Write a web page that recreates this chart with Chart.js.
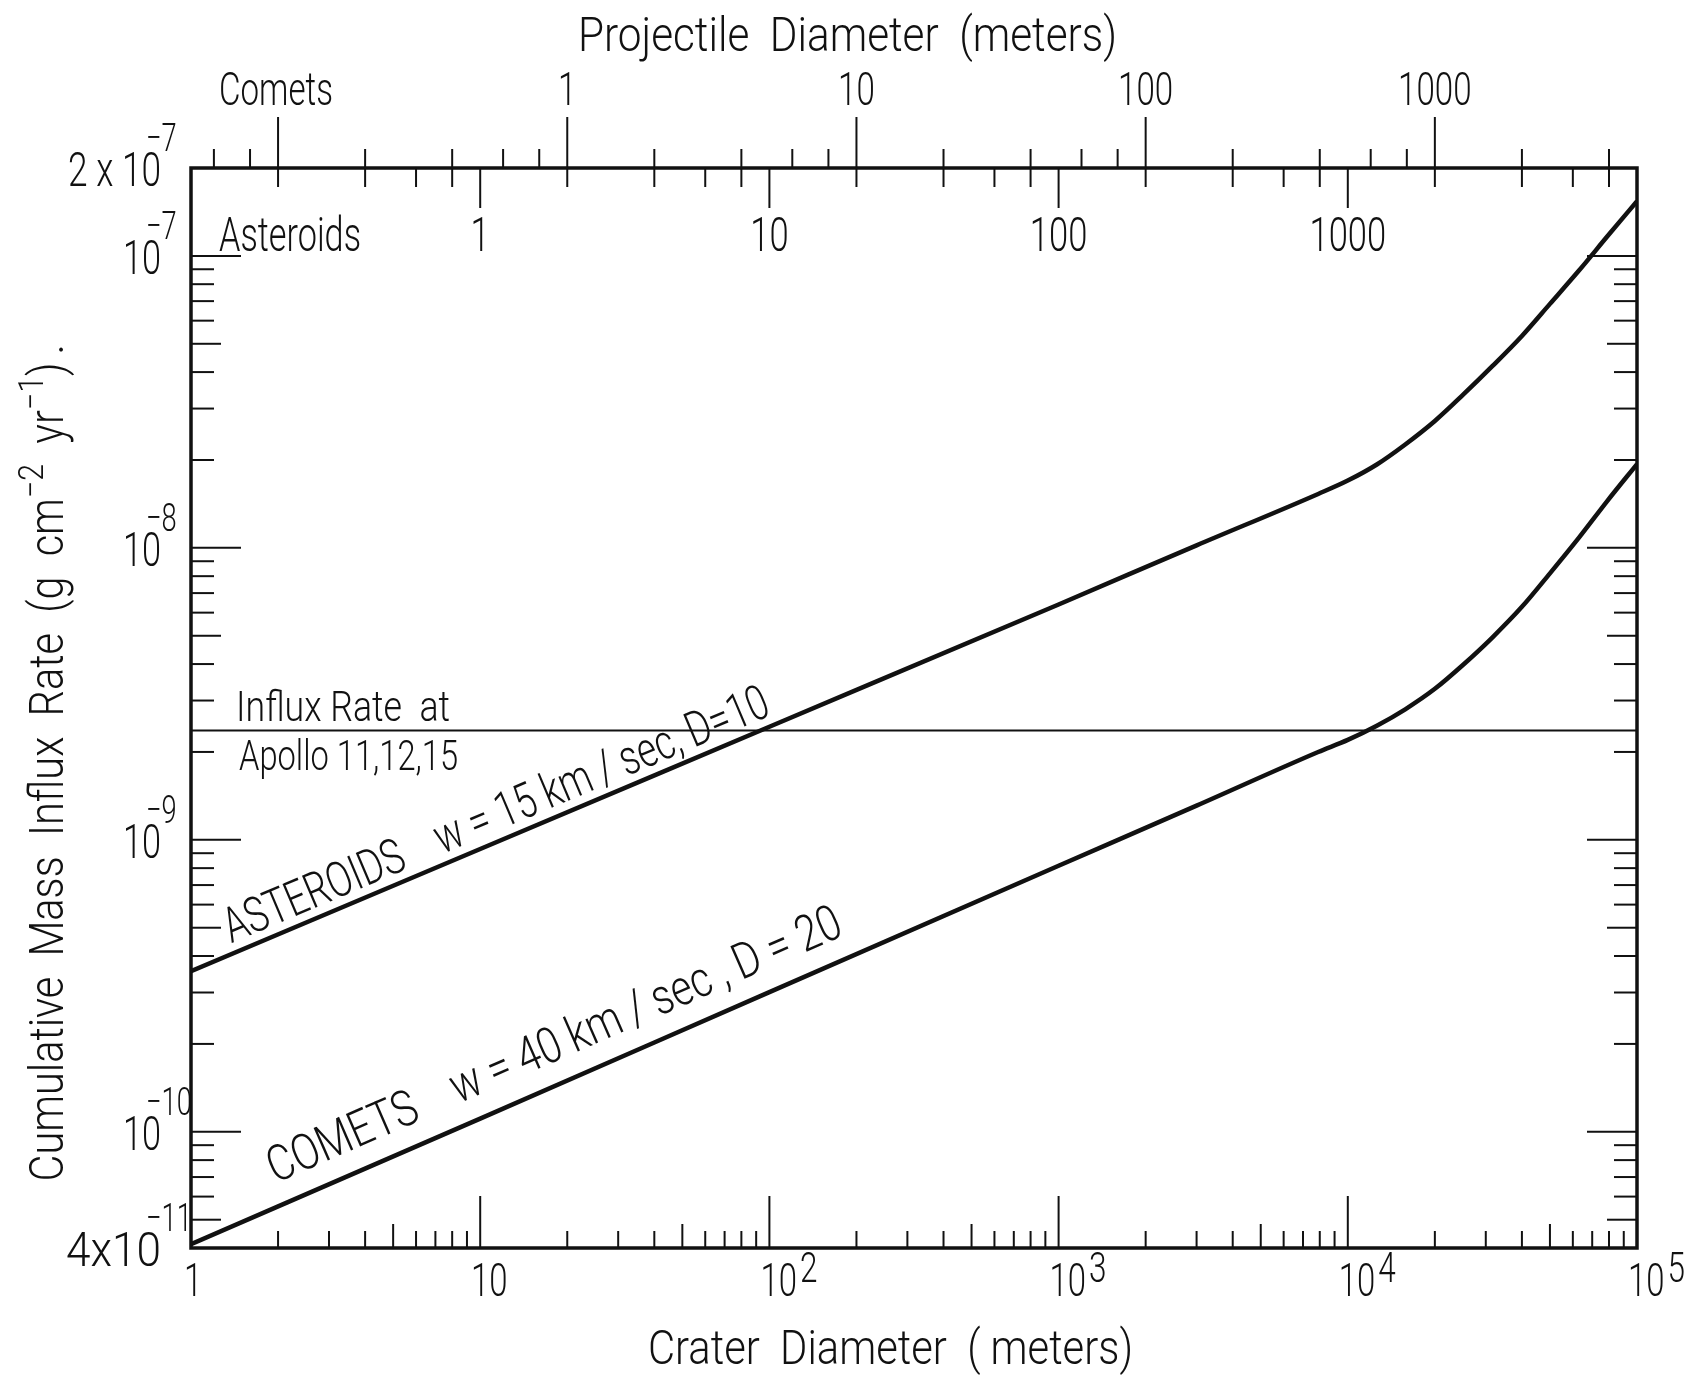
<!DOCTYPE html>
<html lang="en">
<head>
<meta charset="UTF-8">
<title>Cumulative Mass Influx Rate vs Crater Diameter</title>
<script src="https://cdn.jsdelivr.net/npm/chart.js"></script>
<style>
    body { margin: 0; background: #ffffff; }
    #wrap { width: 1700px; height: 1376px; }
</style>
</head>
<body>
<div id="wrap"><canvas id="influxChart" width="1700" height="1376"></canvas></div>
<script>
    const asteroidCrater = [1, 10, 100, 1000, 3000, 7900, 10000, 12600, 15800, 20000, 25000, 31600, 40000, 50000, 63000, 79000, 100000];
    const asteroidRate = [3.55e-10, 9.3e-10, 2.44e-9, 6.4e-9, 1.02e-8, 1.53e-8, 1.70e-8, 1.93e-8, 2.26e-8, 2.72e-8, 3.34e-8, 4.19e-8, 5.32e-8, 6.85e-8, 8.91e-8, 1.167e-7, 1.54e-7];
    const cometCrater = [1, 10, 100, 1000, 3000, 7900, 10000, 12600, 15800, 20000, 25000, 31600, 40000, 50000, 63000, 79000, 100000];
    const cometRate = [4.12e-11, 1.11e-10, 3.01e-10, 8.15e-10, 1.31e-9, 2.0e-9, 2.2e-9, 2.46e-9, 2.8e-9, 3.29e-9, 3.97e-9, 4.93e-9, 6.28e-9, 8.18e-9, 1.084e-8, 1.449e-8, 1.936e-8];
    const apolloRate = 2.37e-9;

    // Axis ticks and labels
    const craterTicks = [1, 10, 100, 1000, 10000, 100000];
    const craterTickBase = ['1', '10', '10', '10', '10', '10'];
    const craterTickExp = ['', '', '2', '3', '4', '5'];
    const rateTicks = [2e-7, 1e-7, 1e-8, 1e-9, 1e-10, 4e-11];
    const rateTickBase = ['2 x 10', '10', '10', '10', '10', '4x10'];
    const rateTickExp = ['\u22127', '\u22127', '\u22128', '\u22129', '\u221210', '\u221211'];
    const projectileTicks = [1, 10, 100, 1000];
    const projectileTickLabels = ['1', '10', '100', '1000'];
    const asteroidRatio = 10;  // D for asteroids
    const cometRatio = 20;     // D for comets

    const FONT = "Roboto, 'DejaVu Sans', sans-serif";
    const INK = '#111';

    function setFont(ctx, size) {
        ctx.font = '300 ' + size + 'px ' + FONT;
    }

    // draw text squeezed horizontally, either to a given width or by a fixed factor
    function squeezed(ctx, str, x, y, size, opts) {
        opts = opts || {};
        setFont(ctx, size);
        const w = ctx.measureText(str).width;
        const sx = opts.width ? opts.width / w : (opts.factor || 0.74);
        ctx.save();
        ctx.translate(x, y);
        ctx.scale(sx, 1);
        ctx.textAlign = opts.align || 'left';
        ctx.textBaseline = 'alphabetic';
        ctx.fillText(str, 0, 0);
        ctx.restore();
        return w * sx;
    }

    // text with superscripts, fitted to a width, drawn at the current origin
    function richText(ctx, parts, size, supSize, rise, width, align) {
        let total = 0;
        const ws = parts.map(p => {
            setFont(ctx, p.sup ? supSize : size);
            const w = ctx.measureText(p.t).width;
            total += w;
            return w;
        });
        ctx.save();
        ctx.scale(width / total, 1);
        ctx.textAlign = 'left';
        let x = align === 'center' ? -total / 2 : 0;
        parts.forEach((p, i) => {
            setFont(ctx, p.sup ? supSize : size);
            ctx.fillText(p.t, x, p.sup ? -rise : 0);
            x += ws[i];
        });
        ctx.restore();
    }

    function line(ctx, x1, y1, x2, y2) {
        ctx.beginPath();
        ctx.moveTo(x1, y1);
        ctx.lineTo(x2, y2);
        ctx.stroke();
    }

    // label along a curve: start at crater value c0, offset above the curve
    function alongCurve(ctx, sx, sy, crater, rate, c0, c1, offset, str, size, width) {
        const interp = c => {
            for (let i = 0; i < crater.length - 1; i++) {
                if (c >= crater[i] && c <= crater[i + 1]) {
                    const t = (Math.log(c) - Math.log(crater[i])) / (Math.log(crater[i + 1]) - Math.log(crater[i]));
                    return Math.exp(Math.log(rate[i]) + t * (Math.log(rate[i + 1]) - Math.log(rate[i])));
                }
            }
            return rate[rate.length - 1];
        };
        const p0 = { x: sx.getPixelForValue(c0), y: sy.getPixelForValue(interp(c0)) };
        const p1 = { x: sx.getPixelForValue(c1), y: sy.getPixelForValue(interp(c1)) };
        const len = Math.hypot(p1.x - p0.x, p1.y - p0.y);
        const ux = (p1.x - p0.x) / len, uy = (p1.y - p0.y) / len;
        const nx = uy, ny = -ux;
        ctx.save();
        ctx.translate(p0.x + nx * offset, p0.y + ny * offset);
        ctx.rotate(Math.atan2(uy, ux));
        squeezed(ctx, str, 0, 0, size, { width: width });
        ctx.restore();
    }

    const framePlugin = {
        id: 'frame',
        afterDatasetsDraw(chart) {
            const ctx = chart.ctx;
            const a = chart.chartArea;
            const sx = chart.scales.x, sy = chart.scales.y;
            const sAst = chart.scales.xAst, sCom = chart.scales.xCom;
            ctx.save();
            ctx.strokeStyle = INK;
            ctx.fillStyle = INK;

            // ticks
            ctx.lineWidth = 2;
            for (let d = 0; d < 5; d++) {
                for (let m = 1; m <= 9; m++) {
                    const v = m * Math.pow(10, d);
                    if (v <= 1) continue;
                    const px = sx.getPixelForValue(v);
                    const len = m === 1 ? 52 : (m === 5 ? 24 : 17);
                    line(ctx, px, a.bottom, px, a.bottom - len);
                }
            }
            for (let e = -11; e <= -7; e++) {
                for (let m = 1; m <= 9; m++) {
                    const v = m * Math.pow(10, e);
                    if (v <= 4.01e-11 || v >= 1.99e-7) continue;
                    const py = sy.getPixelForValue(v);
                    const len = m === 1 ? 50 : (m === 5 ? 30 : 23);
                    line(ctx, a.left, py, a.left + len, py);
                    line(ctx, a.right, py, a.right - len, py);
                }
            }
            const topTicks = (scale, dir, majorLen) => {
                for (let e = -2; e <= 4; e++) {
                    [1, 2, 4, 6, 8].forEach(m => {
                        const v = m * Math.pow(10, e);
                        if (v < scale.min * 1.01 || v > scale.max * 0.99) return;
                        const px = scale.getPixelForValue(v);
                        line(ctx, px, a.top, px, a.top + dir * (m === 1 ? majorLen : 19));
                    });
                }
            };
            topTicks(sCom, -1, 51);
            topTicks(sAst, 1, 40);

            // frame
            ctx.lineWidth = 3.5;
            ctx.strokeRect(a.left, a.top, a.right - a.left, a.bottom - a.top);

            // bottom tick labels
            craterTicks.forEach((v, i) => {
                const px = sx.getPixelForValue(v);
                if (!craterTickExp[i]) {
                    squeezed(ctx, craterTickBase[i], i === 0 ? px + 2 : px + 9, 1296, 47, { factor: 0.7, align: 'center' });
                } else {
                    const w = squeezed(ctx, craterTickBase[i], px - 9, 1296, 47, { factor: 0.7 });
                    squeezed(ctx, craterTickExp[i], px - 9 + w + 3, 1282, 42, { factor: 0.75 });
                }
            });

            // left tick labels
            rateTicks.forEach((v, i) => {
                const py = sy.getPixelForValue(v);
                const opts = { align: 'right', factor: 0.7 };
                if (i === 0) opts.width = 93;
                if (i === 5) opts.width = 95;
                squeezed(ctx, rateTickBase[i], 161, py + 18, 49, opts);
                squeezed(ctx, rateTickExp[i], 146, py - 17, 39, { factor: 0.7 });
            });

            // projectile scales on top
            projectileTicks.forEach((v, i) => {
                squeezed(ctx, projectileTickLabels[i], sCom.getPixelForValue(v), 105, 46, { factor: 0.72, align: 'center' });
                squeezed(ctx, projectileTickLabels[i], sAst.getPixelForValue(v), 251, 48, { factor: 0.72, align: 'center' });
            });
            squeezed(ctx, 'Comets', 219, 105, 46, { width: 114 });
            squeezed(ctx, 'Asteroids', 219, 251, 48, { width: 142 });

            // axis titles
            squeezed(ctx, 'Projectile  Diameter  (meters)', 578, 51, 48, { width: 539 });
            squeezed(ctx, 'Crater  Diameter  ( meters)', 648, 1364, 49, { width: 485 });
            ctx.save();
            ctx.translate(63, 772);
            ctx.rotate(-Math.PI / 2);
            richText(ctx, [
                { t: 'Cumulative  Mass  Influx  Rate  (g  cm' },
                { t: '\u22122', sup: true },
                { t: '  yr' },
                { t: '\u22121', sup: true },
                { t: ')' }
            ], 48, 35, 20, 819, 'center');
            setFont(ctx, 48);
            ctx.fillText('.', 417, 0);
            ctx.restore();

            // annotations
            squeezed(ctx, 'Influx Rate  at', 236, 721, 43, { width: 214 });
            squeezed(ctx, 'Apollo 11,12,15', 239, 770, 43, { width: 219 });
            alongCurve(ctx, sx, sy, asteroidCrater, asteroidRate, 1.42, 1000, 10,
                'ASTEROIDS    w = 15 km / sec, D=10', 49, 588);
            alongCurve(ctx, sx, sy, cometCrater, cometRate, 2.1, 1000, 22,
                'COMETS    w = 40 km / sec , D = 20', 50, 622);
            ctx.restore();
        }
    };

    const ctx = document.getElementById('influxChart').getContext('2d');
    const influxChart = new Chart(ctx, {
        type: 'line',
        data: {
            datasets: [
                {
                    label: 'Asteroids',
                    data: asteroidCrater.map((c, i) => ({ x: c, y: asteroidRate[i] })),
                    borderColor: INK,
                    borderWidth: 4.5,
                    pointRadius: 0,
                    cubicInterpolationMode: 'monotone',
                    fill: false
                },
                {
                    label: 'Comets',
                    data: cometCrater.map((c, i) => ({ x: c, y: cometRate[i] })),
                    borderColor: INK,
                    borderWidth: 4.5,
                    pointRadius: 0,
                    cubicInterpolationMode: 'monotone',
                    fill: false
                },
                {
                    label: 'Influx rate at Apollo 11, 12, 15',
                    data: [{ x: craterTicks[0], y: apolloRate }, { x: craterTicks[craterTicks.length - 1], y: apolloRate }],
                    borderColor: INK,
                    borderWidth: 2,
                    pointRadius: 0,
                    fill: false
                }
            ]
        },
        options: {
            responsive: false,
            animation: false,
            devicePixelRatio: 1,
            layout: { padding: { left: 191, right: 63, top: 168, bottom: 128 } },
            plugins: { legend: { display: false }, tooltip: { enabled: false } },
            scales: {
                x: { type: 'logarithmic', min: 1, max: 1e5, display: false },
                y: { type: 'logarithmic', min: 4e-11, max: 2e-7, display: false },
                xAst: { type: 'logarithmic', axis: 'x', position: 'top', min: 1 / asteroidRatio, max: 1e5 / asteroidRatio, display: false },
                xCom: { type: 'logarithmic', axis: 'x', position: 'top', min: 1 / cometRatio, max: 1e5 / cometRatio, display: false }
            }
        },
        plugins: [framePlugin]
    });
</script>
</body>
</html>
